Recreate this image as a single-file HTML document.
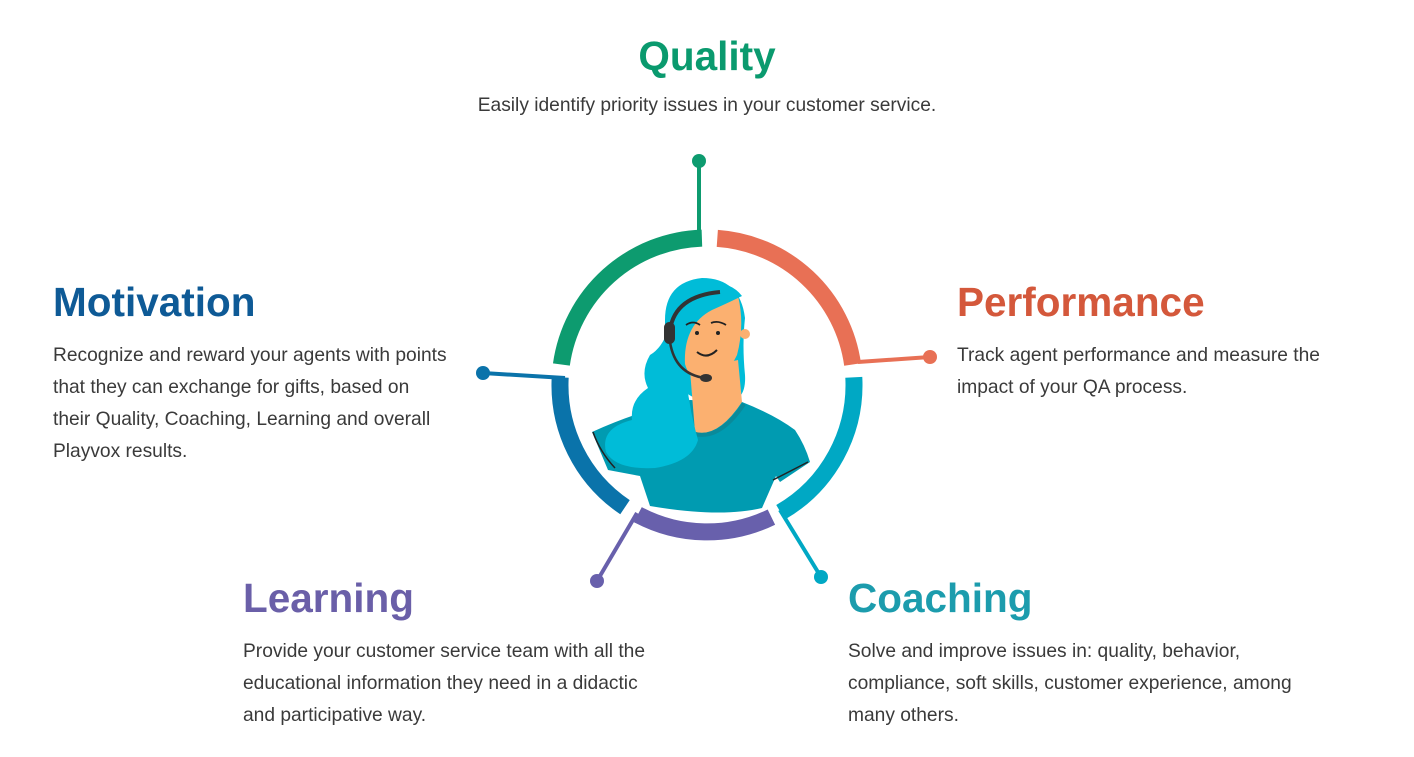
<!DOCTYPE html>
<html><head><meta charset="utf-8"><style>
html,body{margin:0;padding:0;background:#fff;}
svg{display:block;font-family:"Liberation Sans",sans-serif;}
.b{font-size:19.2px;fill:#3a3a3a;}
.h{font-size:40.5px;font-weight:bold;}
</style></head><body>
<svg width="1414" height="757" viewBox="0 0 1414 757">
<text x="707" y="70" text-anchor="middle" class="h" fill="#0a9a6e">Quality</text>
<text x="707" y="111" text-anchor="middle" class="b">Easily identify priority issues in your customer service.</text>

<text x="53" y="316" class="h" fill="#0e5a96">Motivation</text>
<text x="53" y="361" class="b">Recognize and reward your agents with points</text>
<text x="53" y="393" class="b">that they can exchange for gifts, based on</text>
<text x="53" y="425" class="b">their Quality, Coaching, Learning and overall</text>
<text x="53" y="457" class="b">Playvox results.</text>

<text x="957" y="316" class="h" fill="#d4583b">Performance</text>
<text x="957" y="361" class="b">Track agent performance and measure the</text>
<text x="957" y="393" class="b">impact of your QA process.</text>

<text x="243" y="612" class="h" fill="#6a5fa8">Learning</text>
<text x="243" y="657" class="b">Provide your customer service team with all the</text>
<text x="243" y="689" class="b">educational information they need in a didactic</text>
<text x="243" y="721" class="b">and participative way.</text>

<text x="848" y="612" class="h" fill="#1c9cad">Coaching</text>
<text x="848" y="657" class="b">Solve and improve issues in: quality, behavior,</text>
<text x="848" y="689" class="b">compliance, soft skills, customer experience, among</text>
<text x="848" y="721" class="b">many others.</text>

<g fill="none" stroke-width="17">
<path d="M561.4,364.5 A147,147 0 0 1 701.9,238.1" stroke="#0d9b6f"/>
<path d="M717.3,238.4 A147,147 0 0 1 852.6,364.5" stroke="#e87055"/>
<path d="M853.8,377.3 A147,147 0 0 1 780.5,512.3" stroke="#00a8c4"/>
<path d="M771.4,517.1 A147,147 0 0 1 637.8,514.6" stroke="#6860ac"/>
<path d="M625.0,507.2 A147,147 0 0 1 560.2,377.3" stroke="#0a73aa"/>
</g>
<g stroke-width="4">
<line x1="699" y1="232" x2="699" y2="161" stroke="#0d9b6f"/>
<line x1="858" y1="362" x2="930" y2="357" stroke="#e87055"/>
<line x1="565" y1="378" x2="483" y2="373" stroke="#0a73aa"/>
<line x1="637" y1="513" x2="597" y2="581" stroke="#6860ac"/>
<line x1="780" y1="510" x2="821" y2="577" stroke="#00a8c4"/>
</g>
<circle cx="699" cy="161" r="7" fill="#0d9b6f"/>
<circle cx="930" cy="357" r="7" fill="#e87055"/>
<circle cx="483" cy="373" r="7" fill="#0a73aa"/>
<circle cx="597" cy="581" r="7" fill="#6860ac"/>
<circle cx="821" cy="577" r="7" fill="#00a8c4"/>

<!-- woman -->
<!-- back hair -->
<path d="M665,320 Q665,282 702,278 Q740,278 745,318 Q742,345 745,375 Q746,392 738,398 L700,400 Q670,390 665,350 Z" fill="#00bcd8"/>
<!-- shirt -->
<path d="M592,432 Q640,410 690,400 L742,402 Q775,415 795,430 Q805,445 810,462 L780,482 L776,476 L762,508 Q720,518 650,506 L640,476 L608,470 Z" fill="#009bb1"/>
<!-- neck -->
<path d="M690,370 L695,432 Q718,438 742,402 L738,360 Z" fill="#fbb070"/>
<path d="M695,434 Q720,440 744,404" stroke="#0a8a9a" stroke-width="4" fill="none"/>
<!-- face -->
<path d="M684,315 Q712,305 738,296 Q745,325 737,355 Q725,380 705,385 Q688,380 684,360 Z" fill="#fbb070"/>
<circle cx="745" cy="334" r="5" fill="#fbb070"/>
<!-- front hair sweep left -->
<path d="M700,282 Q672,290 668,330 Q662,348 650,355 Q640,372 648,388 Q630,400 632,420 Q600,428 606,452 Q616,470 655,468 Q692,462 698,440 Q688,405 685,365 Q683,325 712,310 Q730,302 742,296 Q730,280 700,282 Z" fill="#00bcd8"/>
<path d="M593,432 Q600,452 615,468" stroke="#222" stroke-width="1.5" fill="none"/>
<path d="M773,480 L808,462" stroke="#222" stroke-width="1.5" fill="none"/>
<!-- headset -->
<path d="M670,330 Q675,296 720,292" stroke="#333" stroke-width="4" fill="none"/>
<rect x="664" y="322" width="11" height="22" rx="5.5" fill="#333"/>
<path d="M670,342 Q675,374 705,378" stroke="#333" stroke-width="2.5" fill="none"/>
<ellipse cx="706" cy="378" rx="6" ry="4" fill="#333"/>
<circle cx="697" cy="333" r="2" fill="#222"/>
<circle cx="718" cy="333" r="2" fill="#222"/>
<path d="M697,352 Q707,360 717,350" stroke="#222" stroke-width="2" fill="none"/>
<path d="M686,325 Q693,320 700,325 M711,323 Q718,320 726,325" stroke="#222" stroke-width="1.8" fill="none"/>
</svg>
</body></html>
